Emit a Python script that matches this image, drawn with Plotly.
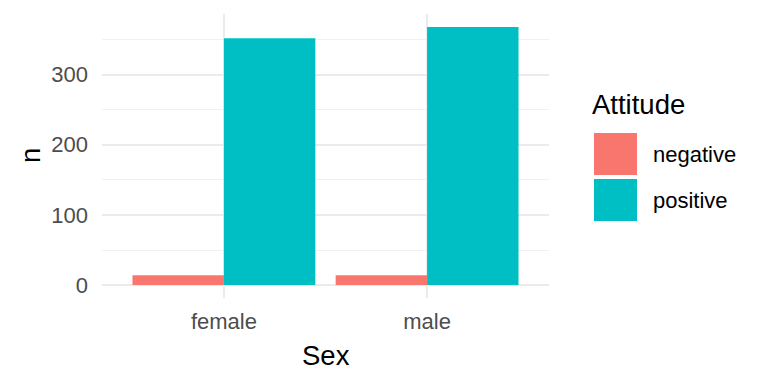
import plotly.graph_objects as go

sexes = ["female", "male"]
attitudes = ["negative", "positive"]
negative_n = [14, 14]
positive_n = [352, 368]
colors = {"negative": "#F8766D", "positive": "#00BFC4"}
y_ticks = [0, 100, 200, 300]

W, H = 768, 384
L, R, T, B = 102, 219, 14, 86
pw, ph = W - L - R, H - T - B

def px(x):
    return (x - L) / pw

def py(y):
    return 1 - (y - T) / ph

fig = go.Figure()
for att, vals in zip(attitudes, [negative_n, positive_n]):
    fig.add_trace(go.Bar(x=sexes, y=vals, name=att, marker=dict(color=colors[att], line=dict(width=0)),
                         showlegend=False))

ymax = max(positive_n) * 1.05
ymin = -max(positive_n) * 0.05

FONT = "Liberation Sans, Arial"
fig.update_layout(
    width=W, height=H, margin=dict(l=L, r=R, t=T, b=B),
    paper_bgcolor="white", plot_bgcolor="white",
    barmode="group", bargap=0.1, bargroupgap=0,
    font=dict(family=FONT, color="#4D4D4D"),
    xaxis=dict(type="category", range=[-0.6, 1.6], showgrid=True, gridcolor="#EBEBEB", gridwidth=1.5,
               tickfont=dict(size=22, color="#4D4D4D"), ticks="", ticklabelstandoff=8,
               showline=False, zeroline=False),
    yaxis=dict(range=[ymin, ymax], tickvals=y_ticks, showgrid=True, gridcolor="#EBEBEB", gridwidth=1.5,
               zeroline=False, tickfont=dict(size=22, color="#4D4D4D"), ticks="", ticklabelstandoff=13,
               minor=dict(tickvals=[50, 150, 250, 350], showgrid=True, gridcolor="#F0F0F0", gridwidth=0.8)),
)

# Axis titles
fig.add_annotation(text="Sex", xref="paper", yref="paper", x=0.5, y=py(355),
                   xanchor="center", yanchor="middle", showarrow=False,
                   font=dict(size=27.5, color="black", family=FONT))
fig.add_annotation(text="n", xref="paper", yref="paper", x=px(30), y=0.5, textangle=-90,
                   xanchor="center", yanchor="middle", showarrow=False,
                   font=dict(size=27.5, color="black", family=FONT))

# Legend (ggplot style)
fig.add_annotation(text="Attitude", xref="paper", yref="paper", x=px(590), y=py(104),
                   xanchor="left", yanchor="middle", showarrow=False,
                   font=dict(size=27.5, color="black", family=FONT))
for i, att in enumerate(attitudes):
    y0 = 133 + i * 46
    fig.add_shape(type="rect", xref="paper", yref="paper", x0=px(594), x1=px(637),
                  y0=py(y0), y1=py(y0 + 42), fillcolor=colors[att], line=dict(width=0))
    fig.add_annotation(text=att, xref="paper", yref="paper", x=px(651), y=py(y0 + 21),
                       xanchor="left", yanchor="middle", showarrow=False,
                       font=dict(size=22, color="black", family=FONT))

fig.write_html("out.html")
